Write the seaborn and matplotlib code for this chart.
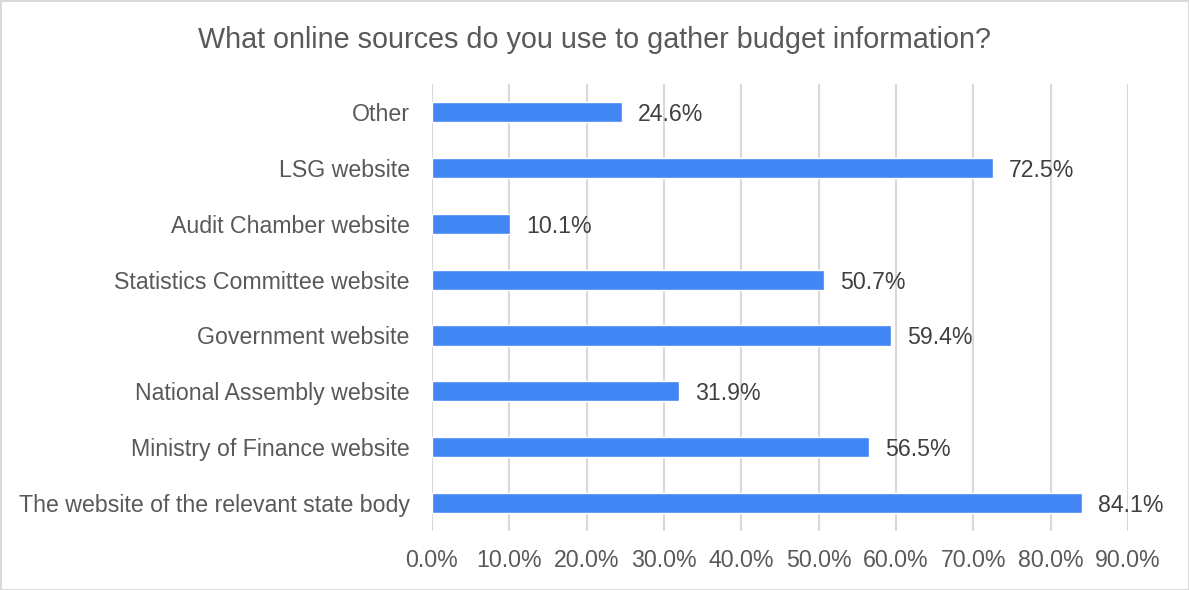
import matplotlib
matplotlib.use("Agg")
import matplotlib.pyplot as plt
import seaborn as sns
import pandas as pd
from matplotlib.ticker import FuncFormatter

categories = [
    "Other",
    "LSG website",
    "Audit Chamber website",
    "Statistics Committee website",
    "Government website",
    "National Assembly website",
    "Ministry of Finance website",
    "The website of the relevant state body",
]
values = [24.6, 72.5, 10.1, 50.7, 59.4, 31.9, 56.5, 84.1]
x_ticks = [0, 10, 20, 30, 40, 50, 60, 70, 80, 90]
title = "What online sources do you use to gather budget information?"

sns.set_theme(style="white")
plt.rcParams["font.family"] = ["Liberation Sans", "DejaVu Sans"]

df = pd.DataFrame({"source": categories, "share": values})

fig = plt.figure(figsize=(11.89, 5.90), dpi=100)
fig.patch.set_edgecolor("#d9d9d9")
fig.patch.set_linewidth(2)
ax = fig.add_axes([0.3633, 0.100, 0.5854, 0.7576])

sns.barplot(data=df, y="source", x="share", order=categories, color="#4285F4",
            saturation=1, width=0.36, ax=ax, zorder=3)

ax.set_xlim(0, 90)
ax.set_ylim(7.5, -0.5)
ax.set_xticks(x_ticks)
ax.xaxis.set_major_formatter(FuncFormatter(lambda v, p: f"{v:.1f}%"))
ax.grid(axis="x", color="#d9d9d9", linewidth=1.5, zorder=0)
ax.grid(axis="y", visible=False)
for s in ax.spines.values():
    s.set_visible(False)
ax.tick_params(axis="both", length=0, labelsize=16.7, colors="#595959")
ax.tick_params(axis="x", pad=13)
ax.tick_params(axis="y", pad=16)
ax.set_xlabel("")
ax.set_ylabel("")

for i, v in enumerate(values):
    ax.annotate(f"{v:.1f}%", xy=(v, i), xytext=(11.5, 0), textcoords="offset points",
                va="center_baseline", ha="left", fontsize=16.7, color="#404040", zorder=4)

fig.text(0.5, 0.932, title, ha="center", va="center", fontsize=20.7, color="#595959")

fig.savefig("out.png", dpi=100, edgecolor=fig.get_edgecolor())
